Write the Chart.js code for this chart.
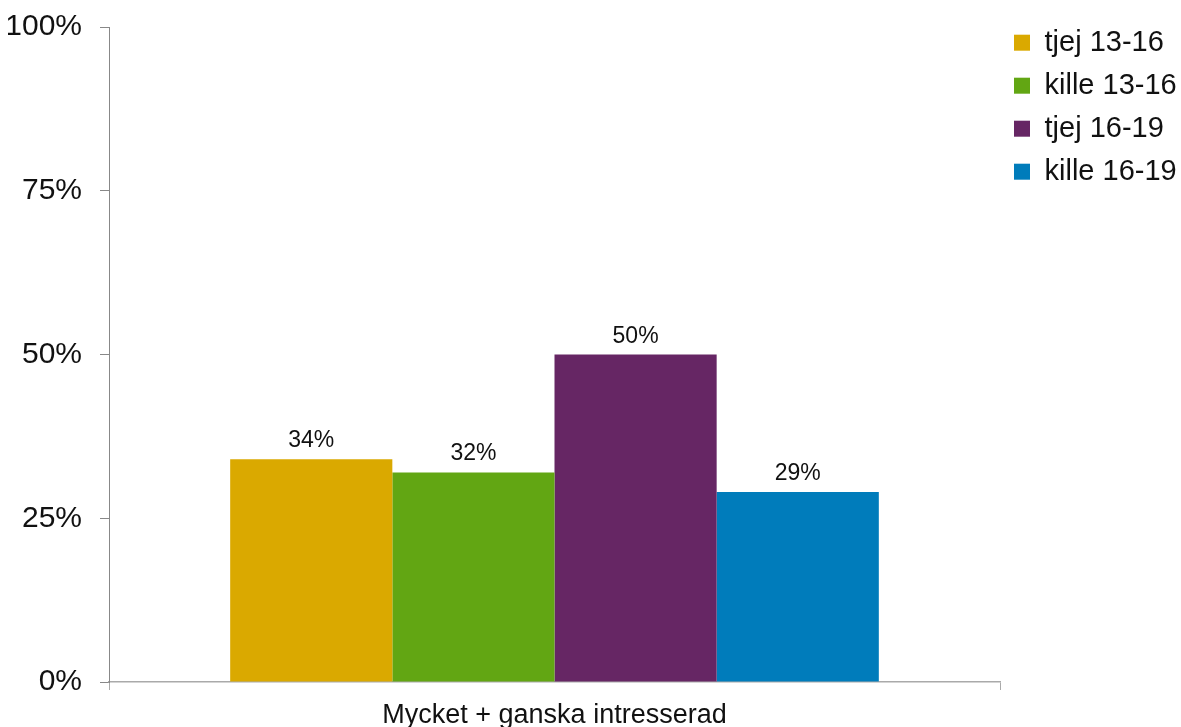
<!DOCTYPE html>
<html>
<head>
<meta charset="utf-8">
<script src="https://cdn.jsdelivr.net/npm/chart.js@4/dist/chart.umd.min.js"></script>
<style>
  body { margin: 0; background: #fff; }
  #wrap { width: 1181px; height: 727px; }
</style>
</head>
<body>
<div id="wrap"><canvas id="chart"></canvas></div>
<script>
// data
const categories = ["Mycket + ganska intresserad"];
const seriesNames = ["tjej 13-16", "kille 13-16", "tjej 16-19", "kille 16-19"];
const seriesValues = [[34], [32], [50], [29]];
const seriesColors = ["#DAA900", "#62A613", "#662664", "#007CBB"];
const yTicks = [0, 25, 50, 75, 100];

const FONT = "'Liberation Sans', Arial, sans-serif";

// value labels above each bar
const barLabels = {
  id: "barLabels",
  afterDatasetsDraw(chart) {
    const ctx = chart.ctx;
    ctx.save();
    ctx.font = "23px " + FONT;
    ctx.fillStyle = "#111";
    ctx.textAlign = "center";
    ctx.textBaseline = "alphabetic";
    chart.data.datasets.forEach((ds, i) => {
      chart.getDatasetMeta(i).data.forEach((bar, j) => {
        ctx.fillText(ds.data[j] + "%", bar.x, bar.y - 12);
      });
    });
    ctx.restore();
  }
};

new Chart(document.getElementById("chart"), {
  type: "bar",
  data: {
    labels: categories,
    datasets: seriesNames.map((name, i) => ({
      label: name,
      data: seriesValues[i],
      backgroundColor: seriesColors[i],
      barPercentage: 1,
      categoryPercentage: 0.728
    }))
  },
  options: {
    responsive: true,
    maintainAspectRatio: false,
    animation: false,
    layout: { padding: { left: 8, top: 0, right: 0, bottom: 0 } },
    plugins: {
      tooltip: { enabled: false },
      legend: {
        position: "right",
        align: "start",
        maxWidth: 181,
        // empty title only used as top spacing
        title: { display: true, text: "", font: { size: 1 }, padding: { top: 13, bottom: 0 } },
        labels: {
          boxWidth: 16,
          boxHeight: 16,
          padding: 14,
          color: "#111",
          font: { size: 29, family: FONT }
        }
      }
    },
    scales: {
      x: {
        afterFit(axis) { axis.height = 45; },
        grid: {
          offset: true,
          drawOnChartArea: false,
          tickLength: 8,
          color: "#aaa"
        },
        border: { color: "#aaa", width: 1.5 },
        ticks: {
          padding: 9,
          color: "#111",
          font: { size: 27, family: FONT }
        }
      },
      y: {
        min: 0,
        max: 100,
        afterFit(axis) { axis.width = 101; },
        afterBuildTicks(axis) {
          axis.ticks = yTicks.map(v => ({ value: v }));
        },
        grid: {
          drawOnChartArea: false,
          tickLength: 9,
          color: "#888"
        },
        border: { color: "#888" },
        ticks: {
          padding: 18,
          color: "#111",
          font: { size: 30, family: FONT, lineHeight: 0.6 },
          callback: v => v + "%"
        }
      }
    }
  },
  plugins: [barLabels]
});
</script>
</body>
</html>
